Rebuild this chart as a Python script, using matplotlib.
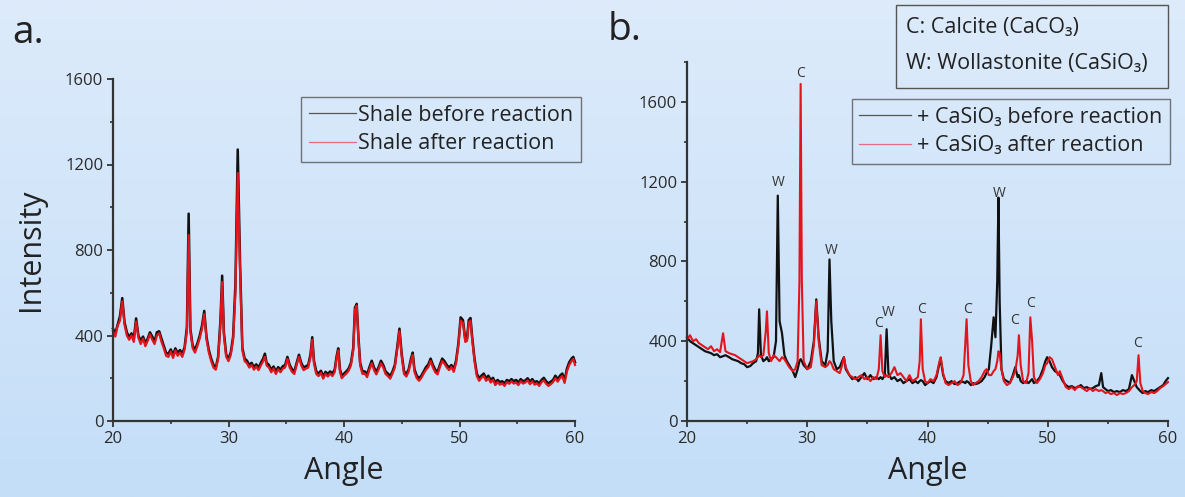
import numpy as np
import matplotlib
matplotlib.use("Agg")
import matplotlib.pyplot as plt
from matplotlib.patches import Rectangle
from matplotlib.lines import Line2D

plt.rcParams['font.family'] = ['Open Sans', 'DejaVu Sans']

# ---------------- Panel a data ----------------
angle_a = [
    20.0, 20.2, 20.4, 20.6, 20.8, 21.0, 21.2, 21.4, 21.6, 21.8,
    22.0, 22.2, 22.4, 22.6, 22.8, 23.0, 23.2, 23.4, 23.6, 23.8,
    24.0, 24.2, 24.4, 24.6, 24.8, 25.0, 25.2, 25.4, 25.6, 25.8,
    26.0, 26.2, 26.4, 26.55, 26.7, 26.9, 27.1, 27.3, 27.5, 27.7,
    27.9, 28.1, 28.3, 28.5, 28.7, 28.9, 29.1, 29.3, 29.45, 29.6,
    29.8, 30.0, 30.2, 30.4, 30.6, 30.8, 31.0, 31.2, 31.4, 31.6,
    31.8, 32.0, 32.2, 32.4, 32.6, 32.8, 33.0, 33.15, 33.3, 33.5,
    33.7, 33.9, 34.1, 34.3, 34.5, 34.7, 34.9, 35.1, 35.3, 35.5,
    35.7, 35.9, 36.1, 36.3, 36.5, 36.7, 36.9, 37.1, 37.25, 37.4,
    37.6, 37.8, 38.0, 38.2, 38.4, 38.6, 38.8, 39.0, 39.2, 39.35,
    39.5, 39.65, 39.8, 40.0, 40.2, 40.4, 40.6, 40.8, 40.95, 41.1,
    41.25, 41.4, 41.6, 41.8, 42.0, 42.2, 42.4, 42.6, 42.8, 43.0,
    43.2, 43.4, 43.6, 43.8, 44.0, 44.2, 44.4, 44.6, 44.8, 45.0,
    45.2, 45.4, 45.6, 45.8, 45.95, 46.1, 46.3, 46.5, 46.7, 46.9,
    47.1, 47.3, 47.5, 47.7, 47.9, 48.1, 48.3, 48.5, 48.7, 48.9,
    49.1, 49.3, 49.5, 49.7, 49.9, 50.1, 50.3, 50.5, 50.65, 50.8,
    50.95, 51.1, 51.3, 51.5, 51.7, 51.9, 52.1, 52.3, 52.5, 52.7,
    52.9, 53.1, 53.3, 53.5, 53.7, 53.9, 54.1, 54.3, 54.5, 54.7,
    54.9, 55.1, 55.3, 55.5, 55.7, 55.9, 56.1, 56.3, 56.5, 56.7,
    56.9, 57.1, 57.3, 57.5, 57.7, 57.9, 58.1, 58.3, 58.5, 58.7,
    58.9, 59.1, 59.3, 59.5, 59.7, 59.85, 60.0,
]
shale_before = [
    432, 410, 450, 490, 575, 462, 415, 392, 410, 385,
    480, 400, 375, 395, 365, 385, 415, 395, 372, 415,
    420, 385, 352, 318, 315, 335, 310, 340, 318, 332,
    315, 345, 440, 970, 430, 352, 335, 362, 398, 445,
    515, 392, 332, 292, 262, 250, 300, 470, 680, 415,
    312, 290, 322, 395, 640, 1270, 740, 342, 292, 282,
    262, 272, 252, 265, 250, 272, 292, 315, 272, 262,
    240, 255, 232, 252, 240, 256, 262, 300, 262, 242,
    232, 272, 310, 272, 250, 256, 262, 312, 392, 282,
    232, 222, 235, 210, 230, 220, 232, 222, 242, 300,
    340, 242, 212, 222, 232, 245, 272, 342, 530, 548,
    392, 272, 232, 232, 218, 252, 282, 250, 230, 252,
    282, 262, 232, 222, 210, 232, 262, 342, 432, 312,
    232, 220, 242, 292, 320, 242, 212, 200, 212, 232,
    252, 265, 292, 262, 240, 230, 262, 292, 280, 262,
    250, 262, 242, 282, 362, 485, 472, 382, 385, 472,
    482, 392, 292, 222, 200, 212, 222, 200, 212, 192,
    202, 180, 192, 182, 186, 176, 192, 186, 196, 186,
    192, 180, 196, 186, 190, 200, 184, 196, 182, 186,
    176, 192, 202, 186, 176, 184, 192, 212, 196, 212,
    222, 190, 245, 275, 292, 300, 275,
]
shale_after = [
    420, 395, 445, 470, 560, 450, 400, 380, 400, 370,
    465, 390, 360, 385, 350, 375, 405, 380, 360, 400,
    410, 370, 340, 305, 300, 325, 295, 330, 305, 320,
    300, 335, 420, 870, 420, 340, 320, 350, 385, 430,
    500, 380, 320, 280, 250, 240, 290, 450, 650, 400,
    300, 280, 310, 380, 600, 1160, 700, 330, 280, 270,
    250, 262, 240, 255, 238, 260, 280, 300, 260, 250,
    228, 245, 220, 242, 228, 245, 250, 290, 250, 230,
    220, 262, 300, 260, 238, 245, 250, 300, 380, 270,
    220, 210, 225, 198, 220, 208, 222, 210, 230, 290,
    330, 230, 200, 212, 222, 235, 260, 330, 520, 540,
    380, 260, 220, 222, 205, 240, 270, 238, 218, 242,
    270, 250, 220, 210, 198, 222, 250, 330, 420, 300,
    220, 208, 232, 280, 310, 230, 200, 188, 202, 222,
    240, 252, 280, 250, 228, 218, 252, 280, 268, 250,
    238, 252, 230, 270, 350, 470, 460, 370, 375, 460,
    470, 380, 280, 210, 188, 202, 210, 188, 200, 180,
    192, 168, 182, 170, 176, 164, 182, 174, 186, 175,
    180, 168, 186, 175, 180, 190, 172, 186, 170, 176,
    164, 182, 190, 174, 164, 172, 182, 200, 184, 200,
    210, 178, 232, 262, 280, 290, 262,
]

# ---------------- Panel b data ----------------
angle_b = [
    20.0, 20.25, 20.5, 20.75, 21.0, 21.25, 21.5, 21.75, 22.0, 22.25,
    22.5, 22.75, 23.0, 23.2, 23.5, 23.75, 24.0, 24.25, 24.5, 24.75,
    25.0, 25.25, 25.5, 25.75, 25.9, 26.0, 26.15, 26.35, 26.55, 26.65,
    26.8, 27.0, 27.2, 27.4, 27.55, 27.7, 27.9, 28.1, 28.3, 28.5,
    28.8, 29.0, 29.2, 29.35, 29.45, 29.55, 29.7, 30.0, 30.3, 30.55,
    30.75, 30.95, 31.2, 31.5, 31.7, 31.85, 32.0, 32.2, 32.45, 32.7,
    32.9, 33.05, 33.2, 33.5, 33.75, 34.0, 34.25, 34.5, 34.75, 35.0,
    35.25, 35.5, 35.75, 35.95, 36.1, 36.25, 36.45, 36.6, 36.75, 37.0,
    37.25, 37.5, 37.75, 38.0, 38.25, 38.5, 38.75, 39.0, 39.2, 39.35,
    39.45, 39.6, 39.8, 40.0, 40.25, 40.5, 40.75, 41.0, 41.1, 41.3,
    41.5, 41.75, 42.0, 42.25, 42.5, 42.75, 43.0, 43.15, 43.25, 43.4,
    43.6, 43.8, 44.0, 44.25, 44.5, 44.75, 44.9, 45.1, 45.3, 45.5,
    45.65, 45.8, 45.9, 46.0, 46.15, 46.35, 46.6, 46.85, 47.1, 47.3,
    47.5, 47.6, 47.75, 47.95, 48.2, 48.4, 48.55, 48.7, 48.85, 49.1,
    49.35, 49.6, 49.8, 49.95, 50.15, 50.35, 50.6, 50.85, 51.0, 51.25,
    51.5, 51.75, 52.0, 52.25, 52.5, 52.75, 53.0, 53.25, 53.5, 53.75,
    54.0, 54.25, 54.45, 54.6, 54.8, 55.0, 55.25, 55.5, 55.75, 56.0,
    56.25, 56.5, 56.75, 57.0, 57.2, 57.4, 57.55, 57.7, 57.9, 58.1,
    58.35, 58.6, 58.85, 59.1, 59.35, 59.6, 59.8, 60.0,
]
casio3_before = [
    420, 400, 390, 380, 370, 360, 350, 345, 340, 330,
    335, 320, 325, 330, 320, 310, 305, 300, 290, 285,
    270, 275, 290, 300, 340, 560, 330, 300, 310, 320,
    300, 310, 320, 400, 1130, 500, 440, 330, 300, 280,
    250, 220, 260, 300, 310, 300, 280, 260, 300, 400,
    610, 420, 300, 280, 350, 810, 500, 300, 260, 270,
    300, 320, 260, 230, 210, 220, 200, 220, 240, 210,
    230, 210, 220, 210, 220, 210, 230, 460, 240, 210,
    220, 200, 210, 190, 200, 210, 190, 200, 190, 200,
    205, 200, 180, 190, 200, 190, 220, 290, 310, 230,
    200, 190, 200, 185, 190, 200, 195, 190, 200, 195,
    180, 190, 185, 190, 200, 220, 240, 260, 380, 520,
    420, 700, 1120, 600, 260, 210, 200, 190, 230, 270,
    220, 230, 200, 190, 200, 190, 200, 210, 190, 200,
    220, 260, 300, 320, 300, 270, 250, 240, 230, 200,
    180, 170, 175, 165, 170, 180, 165, 170, 160, 165,
    175, 180, 240, 170, 160, 150, 155, 145, 150, 145,
    155, 150, 160, 230, 200, 170, 160, 150, 140, 150,
    145, 155, 150, 160, 170, 180, 200, 215,
]
casio3_after = [
    410, 430, 400, 410, 390, 380, 370, 360, 375, 350,
    360, 345, 440, 350, 340, 335, 330, 320, 310, 300,
    290, 295, 300, 310, 320, 330, 320, 330, 450, 550,
    340, 300, 330, 320, 310, 300, 320, 310, 290, 270,
    250, 260, 300, 700, 1690, 700, 300, 260, 270, 380,
    600, 400, 280, 270, 280, 300, 290, 260, 250, 240,
    280, 320, 270, 230, 220, 210, 220, 230, 210, 220,
    200, 220, 210, 260, 430, 250, 220, 230, 220, 240,
    270, 230, 240, 220, 200, 230, 200, 210, 220, 300,
    510, 260, 200, 190, 210, 200, 230, 300, 320, 240,
    190, 180, 190, 200, 180, 190, 230, 400, 510, 280,
    200, 180, 190, 200, 220, 250, 260, 230, 230, 250,
    260, 300, 350, 340, 260, 200, 180, 190, 220, 250,
    330, 430, 280, 200, 190, 240, 520, 400, 220, 190,
    210, 240, 280, 290, 320, 310, 270, 230, 250, 210,
    170, 160, 170, 155, 175, 170, 160, 150, 165, 150,
    160, 150, 155, 150, 140, 145, 135, 140, 130, 140,
    135, 140, 150, 170, 180, 200, 330, 190, 150, 140,
    135, 145, 140, 150, 165, 175, 185, 195,
]

# peak labels for panel b
peak_letters = ['W', 'C', 'W', 'C', 'W', 'C', 'C', 'W', 'C', 'C', 'C']
peak_x = [27.55, 29.45, 32.0, 35.9, 36.7, 39.5, 43.3, 46.0, 47.2, 48.6, 57.45]
peak_y = [1195, 1740, 855, 490, 545, 560, 560, 1140, 505, 590, 390]

ticks_x = [20, 30, 40, 50, 60]
ticks_y = [0, 400, 800, 1200, 1600]

W, H = 1185, 497
fig = plt.figure(figsize=(W / 100, H / 100), dpi=100)

# background gradient
bg = fig.add_axes([0, 0, 1, 1], zorder=-10)
top = np.array([221, 235, 251]) / 255
bot = np.array([196, 222, 248]) / 255
grad = np.linspace(0, 1, 256)[:, None, None]
img = top[None, None, :] * (1 - grad) + bot[None, None, :] * grad
bg.imshow(img, aspect='auto', extent=[0, 1, 0, 1])
bg.axis('off')

axis_col = '#333333'
black = '#111111'
red = '#e3141b'


def style(ax, ymax):
    ax.set_facecolor('none')
    for s in ['top', 'right']:
        ax.spines[s].set_visible(False)
    for s in ['left', 'bottom']:
        ax.spines[s].set_color(axis_col)
        ax.spines[s].set_linewidth(1.6)
    ax.set_xlim(20, 60)
    ax.set_ylim(0, ymax)
    ax.set_xticks(ticks_x)
    ax.set_yticks(ticks_y)
    ax.set_xticks([25, 35, 45, 55], minor=True)
    ax.set_yticks([200, 600, 1000, 1400, 1800] if ymax > 1700 else [200, 600, 1000, 1400], minor=True)
    ax.tick_params(which='major', direction='out', length=4, width=1.3,
                   color=axis_col, labelsize=12, labelcolor='#2a2a2a', pad=3)
    ax.tick_params(which='minor', direction='out', length=2.5, width=1.2, color=axis_col)
    ax.set_xlabel('Angle', fontsize=22, color='#222222', labelpad=7)
    for sp in ax.spines.values():
        sp.set_clip_on(False)


# panel a
ax1 = fig.add_axes([113 / W, 1 - 421 / H, (575 - 113) / W, (421 - 79) / H])
style(ax1, 1600)
ax1.plot(angle_a, shale_before, color=black, lw=1.8, clip_on=False)
ax1.plot(angle_a, shale_after, color=red, lw=1.6, clip_on=False)
ax1.set_ylabel('Intensity', fontsize=22, color='#222222', labelpad=14)
h1 = [Line2D([], [], color='#555555', lw=0.9), Line2D([], [], color='#e07080', lw=0.9)]
leg1 = ax1.legend(h1, ['Shale before reaction', 'Shale after reaction'],
                  loc='upper right', bbox_to_anchor=(581 / W, 1 - 97 / H),
                  bbox_transform=fig.transFigure, fontsize=15.5, frameon=True,
                  fancybox=False, edgecolor='#555555', facecolor='none',
                  handlelength=2.2, handletextpad=0.1, borderpad=0.35,
                  labelspacing=0.35, borderaxespad=0)
leg1.get_frame().set_linewidth(1.0)
for t in leg1.get_texts():
    t.set_color('#222222')

# panel b
ax2 = fig.add_axes([687 / W, 1 - 421 / H, (1168 - 687) / W, (421 - 62) / H])
style(ax2, 1800)
ax2.plot(angle_b, casio3_before, color=black, lw=1.6, clip_on=False)
ax2.plot(angle_b, casio3_after, color=red, lw=1.5, clip_on=False)
for lt, px, py in zip(peak_letters, peak_x, peak_y):
    ax2.text(px, py, lt, ha='center', va='center', fontsize=10, color='#333333')

h2 = [Line2D([], [], color='#555555', lw=0.9), Line2D([], [], color='#e07080', lw=0.9)]
leg2 = ax2.legend(h2, ['+ CaSiO\u2083 before reaction', '+ CaSiO\u2083 after reaction'],
                  loc='upper right', bbox_to_anchor=(1170 / W, 1 - 99 / H),
                  bbox_transform=fig.transFigure, fontsize=15.5, frameon=True,
                  fancybox=False, edgecolor='#555555', facecolor='none',
                  handlelength=2.4, handletextpad=0.3, borderpad=0.35,
                  labelspacing=0.35, borderaxespad=0)
leg2.get_frame().set_linewidth(1.0)
for t in leg2.get_texts():
    t.set_color('#222222')

# key box
fig.patches.append(Rectangle((896 / W, 1 - 88 / H), (1168 - 896) / W, (88 - 5) / H,
                             transform=fig.transFigure, fill=False,
                             edgecolor='#555555', lw=1.0))
fig.text(906 / W, 1 - 28 / H, 'C: Calcite (CaCO\u2083)', fontsize=15.5, color='#222222',
         ha='left', va='center')
fig.text(906 / W, 1 - 63 / H, 'W: Wollastonite (CaSiO\u2083)', fontsize=15.5, color='#222222',
         ha='left', va='center')

# panel letters
fig.text(12 / W, 1 - 33 / H, 'a.', fontsize=28, color='#222222', ha='left', va='center')
fig.text(608 / W, 1 - 30 / H, 'b.', fontsize=28, color='#222222', ha='left', va='center')

fig.savefig('out.png', dpi=100)
